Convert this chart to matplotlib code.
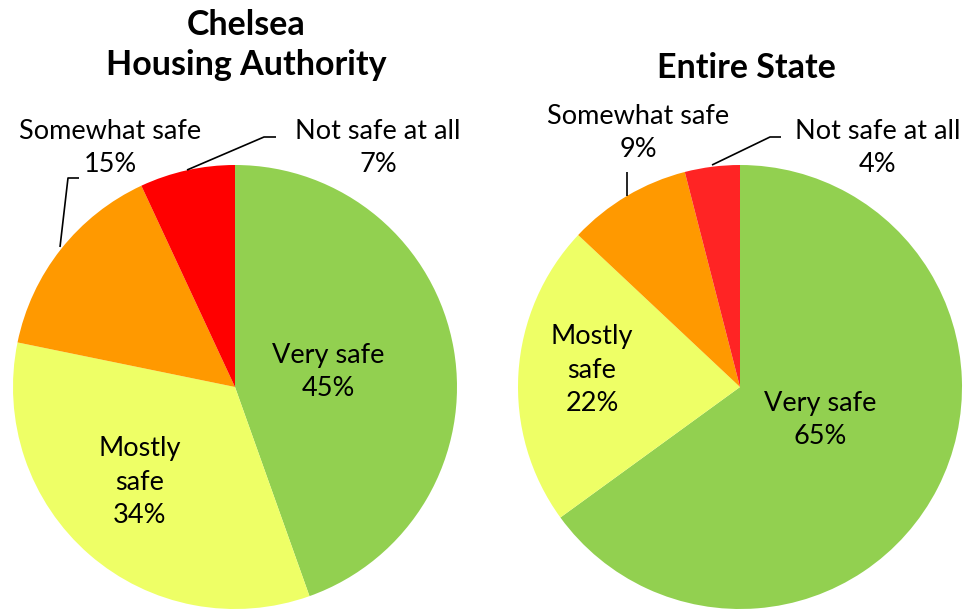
import matplotlib
matplotlib.use("Agg")
import matplotlib.pyplot as plt

categories = ["Very safe", "Mostly\nsafe", "Somewhat safe", "Not safe at all"]
chelsea_values = [45, 34, 15, 7]
state_values = [65, 22, 9, 4]
titles = ["Chelsea\nHousing Authority", "Entire State"]
colors_left = ["#92D050", "#EEFF66", "#FF9900", "#FF0000"]
colors_right = ["#92D050", "#EEFF66", "#FF9900", "#FF2424"]

W, H = 964, 611
fig = plt.figure(figsize=(W / 100, H / 100), dpi=100)
FONT = "Lato"
R = 222.0


def make_ax(cx, cy):
    ax = fig.add_axes([(cx - R) / W, (H - cy - R) / H, 2 * R / W, 2 * R / H])
    ax.set_xlim(-1, 1)
    ax.set_ylim(-1, 1)
    ax.axis("off")
    return ax


def p2d(px, py, cx, cy):
    return ((px - cx) / R, (cy - py) / R)


panels = [
    dict(cx=235, cy=387, vals=chelsea_values, cols=colors_left, title=titles[0],
         title_xy=(246, 45),
         labels=[(328, 372), (140, 482), (110, 148), (378, 148)],
         leaders=[None, None,
                  [(60, 247), (68, 178), (79, 178)],
                  [(187, 170), (264, 137), (276, 137)]]),
    dict(cx=740, cy=387, vals=state_values, cols=colors_right, title=titles[1],
         title_xy=(746, 68),
         labels=[(820, 420), (592, 370), (638, 133), (878, 148)],
         leaders=[None, None,
                  [(627, 196), (627, 172)],
                  [(712, 165), (770, 137), (781, 137)]]),
]

for p in panels:
    ax = make_ax(p["cx"], p["cy"])
    ax.pie(p["vals"], colors=p["cols"], startangle=90, counterclock=False,
           radius=1, wedgeprops=dict(linewidth=0))
    ax.set_xlim(-1, 1)
    ax.set_ylim(-1, 1)
    for cat, v, (lx, ly) in zip(categories, p["vals"], p["labels"]):
        x, y = p2d(lx, ly, p["cx"], p["cy"])
        ax.text(x, y, f"{cat}\n{v}%", ha="center", va="center", fontsize=19.5,
                family=FONT, linespacing=1.42, clip_on=False)
    for ld in p["leaders"]:
        if ld is None:
            continue
        pts = [p2d(a, b, p["cx"], p["cy"]) for a, b in ld]
        ax.plot([q[0] for q in pts], [q[1] for q in pts], color="black",
                lw=1.2, clip_on=False, solid_capstyle="butt")
    tx, ty = p["title_xy"]
    fig.text(tx / W, 1 - ty / H, p["title"], ha="center", va="center",
             fontsize=24.5, fontweight="bold", family=FONT, linespacing=1.3)

fig.savefig("out.png", dpi=100)
